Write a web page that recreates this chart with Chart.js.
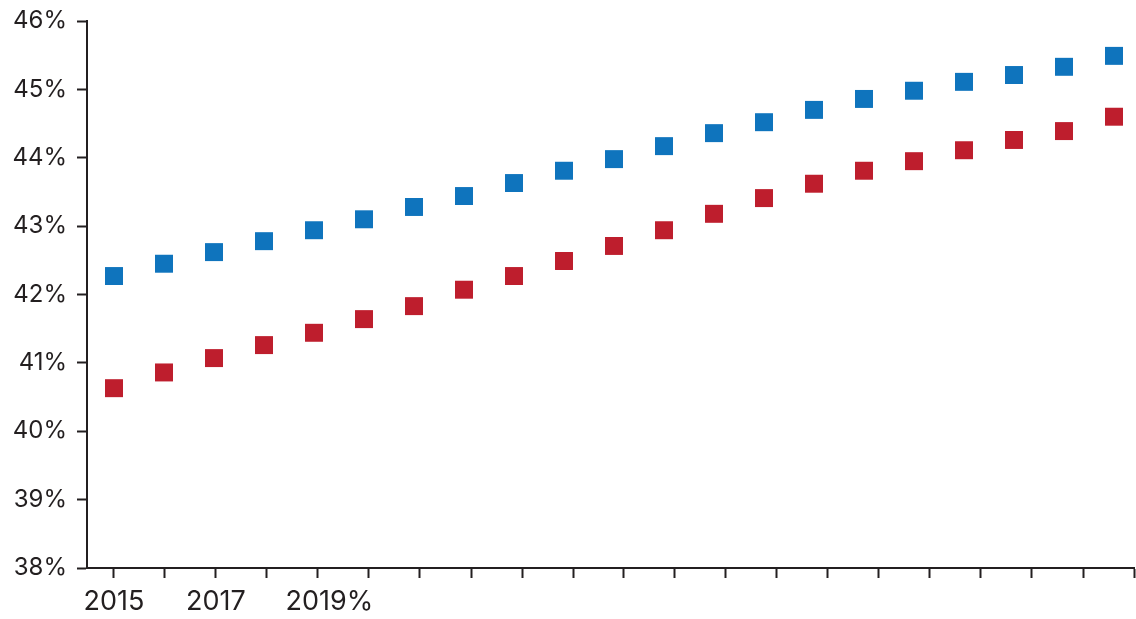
<!DOCTYPE html>
<html lang="en">
<head>
    <meta charset="UTF-8">
    <title>Share chart</title>
    <script src="https://cdn.jsdelivr.net/npm/chart.js"></script>
    <style>
        body {
            margin: 0;
            background: #ffffff;
        }
        .wrap {
            width: 1136px;
            height: 619px;
        }
    </style>
</head>
<body>
    <div class="wrap">
        <canvas id="shareChart" width="1136" height="619"></canvas>
    </div>

    <script>
        // Data
        const years = [2015, 2016, 2017, 2018, 2019, 2020, 2021, 2022, 2023, 2024, 2025,
                       2026, 2027, 2028, 2029, 2030, 2031, 2032, 2033, 2034, 2035];
        const blueSeries = [42.27, 42.45, 42.62, 42.78, 42.94, 43.10, 43.28, 43.44, 43.63, 43.81, 43.98,
                            44.17, 44.36, 44.52, 44.70, 44.86, 44.98, 45.11, 45.21, 45.33, 45.49];
        const redSeries = [40.63, 40.86, 41.07, 41.26, 41.44, 41.64, 41.83, 42.07, 42.27, 42.49, 42.71,
                           42.94, 43.18, 43.41, 43.62, 43.81, 43.95, 44.11, 44.26, 44.39, 44.60];
        // leading spaces nudge the "2019%" label right, as in the source
        const xTickLabels = ['2015', '', '2017', '', '   2019%', '', '', '', '', '', '',
                             '', '', '', '', '', '', '', '', '', ''];
        const yTicks = [38, 39, 40, 41, 42, 43, 44, 45, 46];

        const ink = '#231f20';
        const tickStep = 1.02; // tick marks are spaced a bit wider than the points

        const toPoints = (vals) => vals.map((v, i) => ({ x: years[i], y: v }));

        const ctx = document.getElementById('shareChart').getContext('2d');
        new Chart(ctx, {
            type: 'scatter',
            data: {
                datasets: [
                    {
                        label: 'Blue',
                        data: toPoints(blueSeries),
                        pointStyle: 'rect',
                        pointRadius: 12.7,
                        pointBorderWidth: 0,
                        backgroundColor: '#0f74bd',
                        borderColor: '#0f74bd'
                    },
                    {
                        label: 'Red',
                        data: toPoints(redSeries),
                        pointStyle: 'rect',
                        pointRadius: 12.7,
                        pointBorderWidth: 0,
                        backgroundColor: '#be1e2d',
                        borderColor: '#be1e2d'
                    }
                ]
            },
            options: {
                responsive: false,
                animation: false,
                devicePixelRatio: 1,
                layout: {
                    autoPadding: false,
                    padding: { top: 21, right: 2, left: 0, bottom: 0 }
                },
                plugins: {
                    legend: { display: false },
                    tooltip: { enabled: false }
                },
                scales: {
                    x: {
                        type: 'linear',
                        min: years[0] - 0.54,
                        max: years[0] + (xTickLabels.length - 1) * tickStep,
                        afterBuildTicks: (scale) => {
                            scale.ticks = xTickLabels.map((_, i) => ({ value: years[0] + i * tickStep }));
                        },
                        afterFit: (scale) => {
                            scale.height = 51;
                            scale.paddingLeft = 0;
                            scale.paddingRight = 0;
                        },
                        border: { display: true, color: ink, width: 2 },
                        grid: {
                            drawOnChartArea: false,
                            drawTicks: true,
                            tickLength: 10,
                            tickColor: ink,
                            tickWidth: 2
                        },
                        ticks: {
                            autoSkip: false,
                            maxRotation: 0,
                            padding: 8,
                            color: ink,
                            font: { family: 'Inter', size: 27 },
                            callback: (value, index) => xTickLabels[index]
                        }
                    },
                    y: {
                        min: yTicks[0],
                        max: yTicks[yTicks.length - 1],
                        afterBuildTicks: (scale) => {
                            scale.ticks = yTicks.map(v => ({ value: v }));
                        },
                        afterFit: (scale) => {
                            scale.width = 87;
                            scale.paddingTop = 0;
                            scale.paddingBottom = 0;
                        },
                        border: { display: true, color: ink, width: 2 },
                        grid: {
                            drawOnChartArea: false,
                            drawTicks: true,
                            tickLength: 10,
                            tickColor: ink,
                            tickWidth: 2
                        },
                        ticks: {
                            padding: 10,
                            color: ink,
                            font: { family: 'Inter', size: 24 },
                            callback: (value) => value + '%'
                        }
                    }
                }
            }
        });
    </script>
</body>
</html>
